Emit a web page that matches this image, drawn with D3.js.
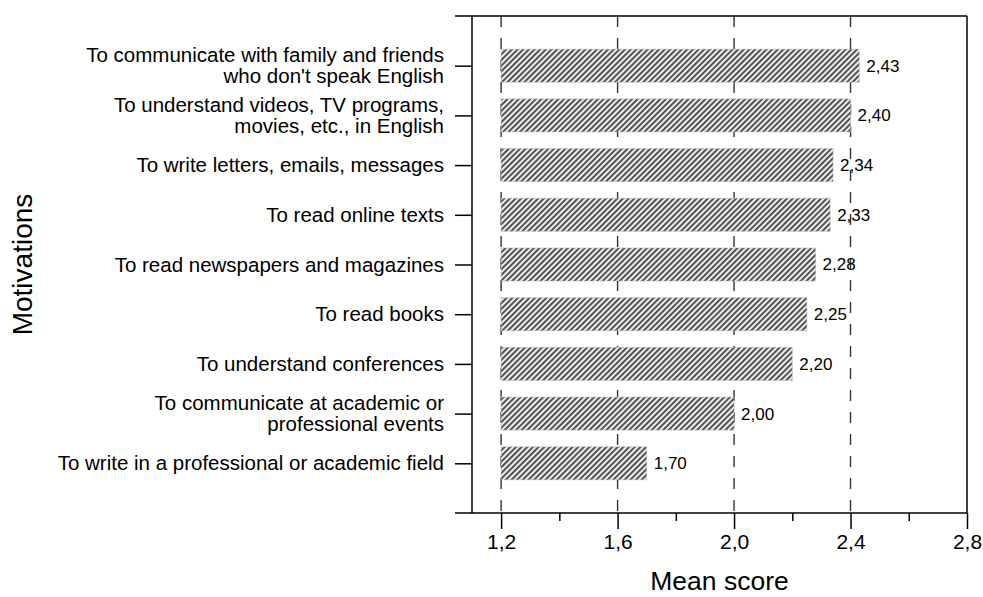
<!DOCTYPE html>
<html>
<head>
<meta charset="utf-8">
<script src="https://cdn.jsdelivr.net/npm/d3@7"></script>
<style>
  html, body { margin: 0; padding: 0; background: #fff; }
  svg { display: block; font-family: Arial, "Liberation Sans", sans-serif; }
</style>
</head>
<body>
<svg id="chart" width="983" height="597"></svg>
<script>
// ---- data ----
const categories = [
  ["To communicate with family and friends", "who don't speak English"],
  ["To understand videos, TV programs,", "movies, etc., in English"],
  ["To write letters, emails, messages"],
  ["To read online texts"],
  ["To read newspapers and magazines"],
  ["To read books"],
  ["To understand conferences"],
  ["To communicate at academic or", "professional events"],
  ["To write in a professional or academic field"]
];
const meanScores = [2.43, 2.40, 2.34, 2.33, 2.28, 2.25, 2.20, 2.00, 1.70];
const majorTicks = [1.2, 1.6, 2.0, 2.4, 2.8];
const minorTicks = [1.4, 1.8, 2.2, 2.6];
const gridTicks = [1.2, 1.6, 2.0, 2.4];
const barBase = 1.2;
const xTitle = "Mean score";
const yTitle = "Motivations";

// ---- layout ----
const svg = d3.select("#chart");
const L = 472, R = 967, T = 16, B = 513;
const fmt = v => d3.format(".1f")(v).replace(".", ",");
const fmt2 = v => d3.format(".2f")(v).replace(".", ",");

const x = d3.scaleLinear().domain([1.1, 2.8]).range([L, R]);
const idx = categories.map((d, i) => i);
const y = d3.scalePoint().domain(idx).range([T, B]).padding(1);
const barH = 33;

// pattern
const defs = svg.append("defs");
const pat = defs.append("pattern")
  .attr("id", "hatch").attr("patternUnits", "userSpaceOnUse")
  .attr("width", 4).attr("height", 4)
  .attr("patternTransform", "rotate(45)");
pat.append("rect").attr("width", 4).attr("height", 4).attr("fill", "#ececec");
pat.append("rect").attr("x", 0).attr("y", 0).attr("width", 1.8).attr("height", 4).attr("fill", "#444");

// grid lines (dashed)
svg.append("g").selectAll("line").data(gridTicks).join("line")
  .attr("x1", d => x(d)).attr("x2", d => x(d))
  .attr("y1", T).attr("y2", B)
  .attr("stroke", "#333").attr("stroke-width", 1.4)
  .attr("stroke-dasharray", "11,11");

// bars
svg.append("g").selectAll("rect").data(meanScores).join("rect")
  .attr("x", x(barBase))
  .attr("y", (d, i) => y(i) - barH / 2)
  .attr("width", d => x(d) - x(barBase))
  .attr("height", barH)
  .attr("fill", "url(#hatch)")
  .attr("stroke", "#b0b0b0").attr("stroke-width", 1)
  .attr("stroke-dasharray", "1,1");

// value labels
svg.append("g").selectAll("text").data(meanScores).join("text")
  .attr("x", d => x(d) + 7)
  .attr("y", (d, i) => y(i))
  .attr("dy", "0.35em")
  .attr("font-size", 17)
  .attr("fill", "#000")
  .text(d => fmt2(d));

// frame
const frame = svg.append("g").attr("stroke", "#000").attr("stroke-width", 1.5);
frame.append("line").attr("x1", 455).attr("x2", R).attr("y1", T).attr("y2", T);
frame.append("line").attr("x1", 455).attr("x2", R).attr("y1", B).attr("y2", B);
frame.append("line").attr("x1", R).attr("x2", R).attr("y1", T).attr("y2", B);

// left axis
const yAxis = svg.append("g").attr("transform", `translate(${L},0)`)
  .call(d3.axisLeft(y).tickSize(17).tickFormat(""));
yAxis.select(".domain").attr("stroke-width", 1.5).attr("d", `M0,${T}V${B}`);
yAxis.selectAll(".tick line").attr("stroke-width", 1.5);

// category labels
const lab = svg.append("g").attr("font-size", 20.5).attr("fill", "#000").attr("text-anchor", "end");
categories.forEach((lines, i) => {
  const lh = 21;
  const t = lab.append("text").attr("x", 444).attr("y", y(i));
  lines.forEach((ln, k) => {
    t.append("tspan").attr("x", 444)
      .attr("y", y(i) + (k - (lines.length - 1) / 2) * lh)
      .attr("dy", "0.35em").text(ln);
  });
});

// bottom axis
const xAxis = svg.append("g").attr("transform", `translate(0,${B})`)
  .call(d3.axisBottom(x).tickValues(majorTicks).tickSize(16).tickPadding(5).tickFormat(fmt));
xAxis.select(".domain").remove();
xAxis.selectAll(".tick line").attr("stroke-width", 1.5);
xAxis.selectAll("text").attr("font-size", 21).attr("font-family", "Arial, 'Liberation Sans', sans-serif").attr("fill", "#000");

const xMinor = svg.append("g").attr("transform", `translate(0,${B})`)
  .call(d3.axisBottom(x).tickValues(minorTicks).tickSize(8).tickFormat(""));
xMinor.select(".domain").remove();
xMinor.selectAll(".tick line").attr("stroke-width", 1.5);

// titles
svg.append("text").attr("x", x(1.95)).attr("y", 590)
  .attr("text-anchor", "middle").attr("font-size", 26.5).attr("fill", "#000").text(xTitle);
svg.append("text").attr("transform", `translate(32,${(T + B) / 2 + 0}) rotate(-90)`)
  .attr("text-anchor", "middle").attr("font-size", 28).attr("fill", "#000").text(yTitle);
</script>
</body>
</html>
